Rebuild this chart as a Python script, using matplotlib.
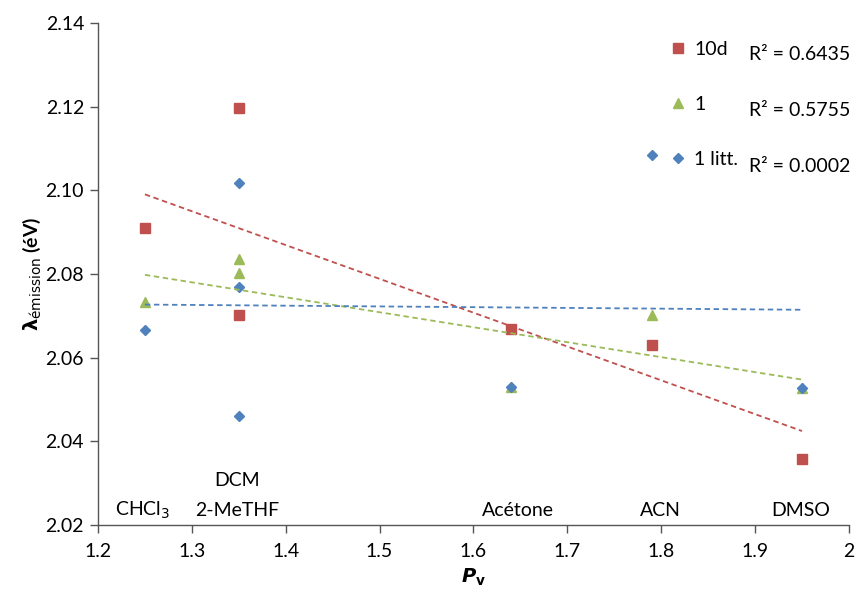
import numpy as np
import matplotlib.pyplot as plt

plt.rcParams['font.family'] = ['Lato', 'DejaVu Sans']

# Pv of each solvent and emission energies (eV)
x_10d = [1.25, 1.35, 1.35, 1.64, 1.79, 1.95]
y_10d = [2.0909, 2.1196, 2.0702, 2.0668, 2.0630, 2.0359]

x_1 = [1.25, 1.35, 1.35, 1.64, 1.79, 1.95]
y_1 = [2.0734, 2.0837, 2.0803, 2.0530, 2.0702, 2.0528]

x_litt = [1.25, 1.35, 1.35, 1.35, 1.64, 1.79, 1.95]
y_litt = [2.0666, 2.1017, 2.0770, 2.0461, 2.0529, 2.1084, 2.0528]

r2_labels = ['R² = 0.6435', 'R² = 0.5755', 'R² = 0.0002']

solvents = ['CHCl$_3$', '2-MeTHF', 'DCM', 'Acétone', 'ACN', 'DMSO']
solvent_x = [1.248, 1.348, 1.348, 1.647, 1.799, 1.949]
solvent_y = [2.0236, 2.0236, 2.0307, 2.0236, 2.0236, 2.0236]

red, green, blue = '#C0504D', '#9BBB59', '#4F81BD'
fs = 14

fig = plt.figure(figsize=(8.61, 5.96), dpi=100)
ax = fig.add_axes([0.1138, 0.119, 0.8722, 0.8424])

series = [
    (x_10d, y_10d, red, 's', 7.5, '10d'),
    (x_1, y_1, green, '^', 7.5, '1'),
    (x_litt, y_litt, blue, 'D', 5.5, '1 litt.'),
]

for xs, ys, col, mk, ms, lab in series:
    ax.plot(xs, ys, linestyle='none', marker=mk, markersize=ms,
            color=col, label=lab)

# linear trendlines over the data range
for xs, ys, col, mk, ms, lab in series:
    coef = np.polyfit(xs, ys, 1)
    xl = np.array([min(xs), max(xs)])
    ax.plot(xl, np.polyval(coef, xl), color=col, linewidth=1.3,
            linestyle=(0, (3, 2)))

for name, sx, sy in zip(solvents, solvent_x, solvent_y):
    ax.text(sx, sy, name, ha='center', va='center', fontsize=fs)

ax.set_xlim(1.2, 2.0)
ax.set_ylim(2.02, 2.14)
ax.set_xticks(np.arange(1.2, 2.01, 0.1))
ax.set_xticklabels(['1.2', '1.3', '1.4', '1.5', '1.6', '1.7', '1.8', '1.9', '2'])
ax.set_yticks(np.arange(2.02, 2.141, 0.02))
ax.set_yticklabels([f'{v:.2f}' for v in np.arange(2.02, 2.141, 0.02)])
ax.tick_params(labelsize=fs, direction='out', length=6, width=1,
               color='#555555', pad=4)
ax.tick_params(axis='x', pad=7)

for side in ['top', 'right']:
    ax.spines[side].set_visible(False)
for side in ['left', 'bottom']:
    ax.spines[side].set_color('#555555')
    ax.spines[side].set_linewidth(1)

ax.set_xlabel('$\\boldsymbol{P}_\\mathbf{v}$', fontsize=fs, labelpad=5)
ax.set_ylabel('$\\mathbf{\\lambda}_{\\mathrm{émission}}$ (éV)', fontsize=fs,
              fontweight='bold', labelpad=2)

leg = ax.legend(loc='upper left', bbox_to_anchor=(0.751, 0.98), frameon=False,
                fontsize=fs, handlelength=0.8, handletextpad=0.47,
                labelspacing=1.95, borderaxespad=0)

r2_y = [2.1324, 2.1192, 2.1056]
for lab, yy in zip(r2_labels, r2_y):
    ax.text(1.8935, yy, lab, fontsize=fs, va='center', ha='left')

fig.savefig('out.png', dpi=100)
